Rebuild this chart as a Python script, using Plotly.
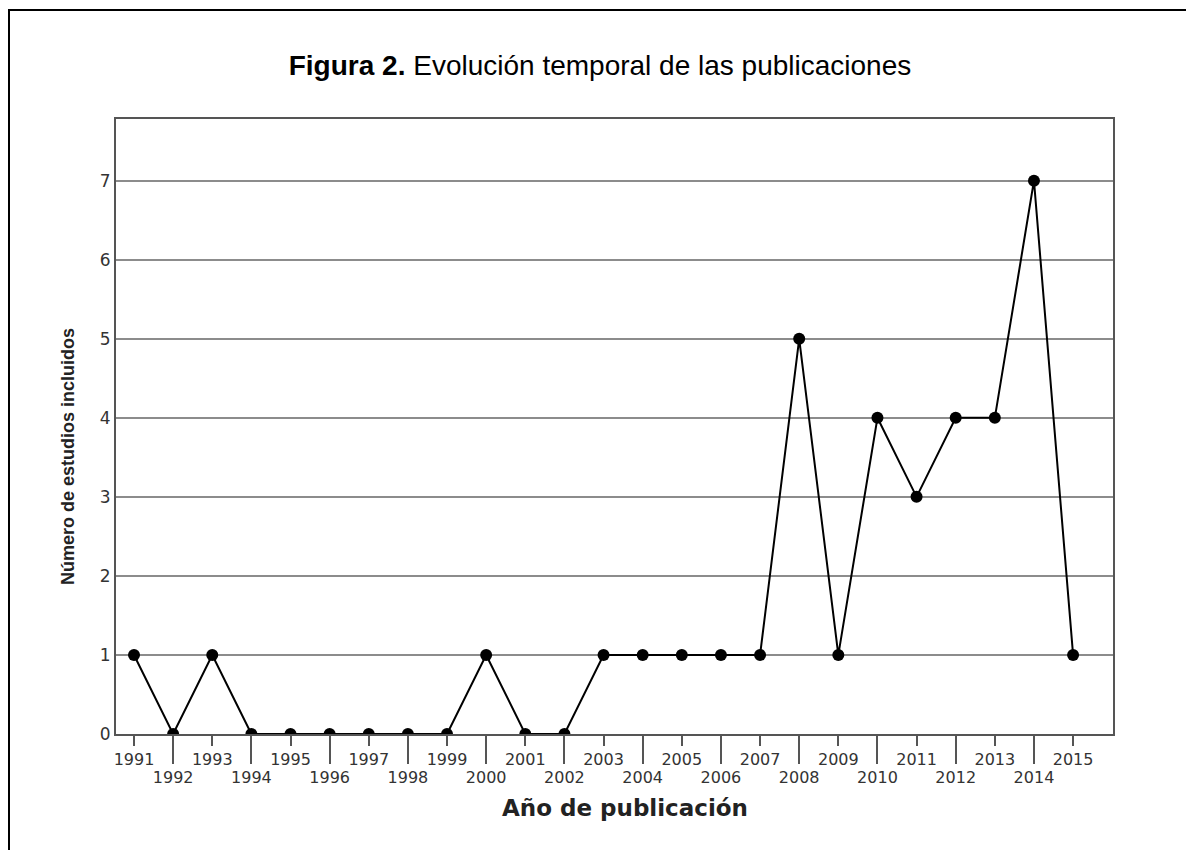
import plotly.graph_objects as go

years = list(range(1991, 2016))
counts = [1, 0, 1, 0, 0, 0, 0, 0, 0, 1, 0, 0, 1, 1, 1, 1, 1, 5, 1, 4, 3, 4, 4, 7, 1]
odd_years = [y for y in years if y % 2 == 1]
even_years = [y for y in years if y % 2 == 0]
y_ticks = list(range(0, 8))

title_bold = "Figura 2."
title_rest = "Evolución temporal de las publicaciones"
x_title = "Año de publicación"
y_title = "Número de estudios incluidos"

# page body has an 8px margin; work in screen coordinates and offset
OFF = 8
W, H = 1194 - OFF, 850 - OFF
L, R, T, B = 116 - OFF, 1113 - OFF, 119 - OFF, 734 - OFF
pw, ph = R - L, B - T

def px(x):
    return (x - OFF - L) / pw

def py(y):
    return (B - (y - OFF)) / ph

axis_col = "#555555"
grid_col = "#8c8c8c"
xtick_font = dict(family="DejaVu Sans, Verdana, sans-serif", size=16, color="#333333")
ytick_font = dict(family="DejaVu Sans, Verdana, sans-serif", size=17, color="#333333")

fig = go.Figure()
fig.add_trace(go.Scatter(
    x=years, y=counts, mode="lines+markers",
    line=dict(color="black", width=2),
    marker=dict(color="black", size=12),
    xaxis="x", yaxis="y", showlegend=False, hoverinfo="x+y",
))
fig.add_trace(go.Scatter(x=[], y=[], xaxis="x2", yaxis="y", showlegend=False))

xrange = [1990.54, 2016.02]
fig.update_layout(
    width=W, height=H,
    paper_bgcolor="white", plot_bgcolor="white",
    margin=dict(l=L, r=W - R, t=T, b=H - B),
    xaxis=dict(
        range=xrange, tickmode="array", tickvals=odd_years,
        ticktext=[str(y) for y in odd_years],
        ticks="outside", ticklen=10, tickwidth=2, tickcolor=axis_col,
        showgrid=False, zeroline=False, showline=True, linecolor=axis_col,
        linewidth=2, mirror=True, tickfont=xtick_font,
    ),
    xaxis2=dict(
        range=xrange, overlaying="x", side="bottom", anchor="y",
        tickmode="array", tickvals=even_years,
        ticktext=[str(y) for y in even_years],
        ticks="outside", ticklen=29, tickwidth=2, tickcolor=axis_col,
        showgrid=False, zeroline=False, showline=False, tickfont=xtick_font,
    ),
    yaxis=dict(
        range=[0, 7.78], tickmode="array", tickvals=y_ticks,
        ticktext=[str(v) for v in y_ticks],
        ticks="", showgrid=True, gridcolor=grid_col, gridwidth=2,
        zeroline=False, showline=True, linecolor=axis_col, linewidth=2,
        mirror=True, tickfont=ytick_font,
    ),
    title=dict(
        text=f"<b>{title_bold}</b> {title_rest}",
        x=(600 - OFF) / W, xref="container", xanchor="center",
        y=1 - (65 - OFF) / H, yref="container", yanchor="middle",
        font=dict(family="Liberation Sans, Arial, sans-serif", size=28, color="black"),
    ),
    annotations=[
        dict(text=f"<b>{x_title}</b>", xref="paper", yref="paper",
             x=px(625), y=py(808), showarrow=False, xanchor="center", yanchor="middle",
             font=dict(family="DejaVu Sans, Verdana, sans-serif", size=23, color="#222222")),
        dict(text=f"<b>{y_title}</b>", xref="paper", yref="paper",
             x=px(68), y=py(457), showarrow=False, textangle=-90,
             xanchor="center", yanchor="middle",
             font=dict(family="Liberation Sans, Arial, sans-serif",
                       size=18, color="#222222")),
    ],
    shapes=[
        dict(type="rect", xref="paper", yref="paper",
             x0=px(9), x1=px(1210), y0=py(10), y1=py(870),
             line=dict(color="black", width=2), fillcolor="rgba(0,0,0,0)", layer="below"),
    ],
)

fig.write_html("out.html")
